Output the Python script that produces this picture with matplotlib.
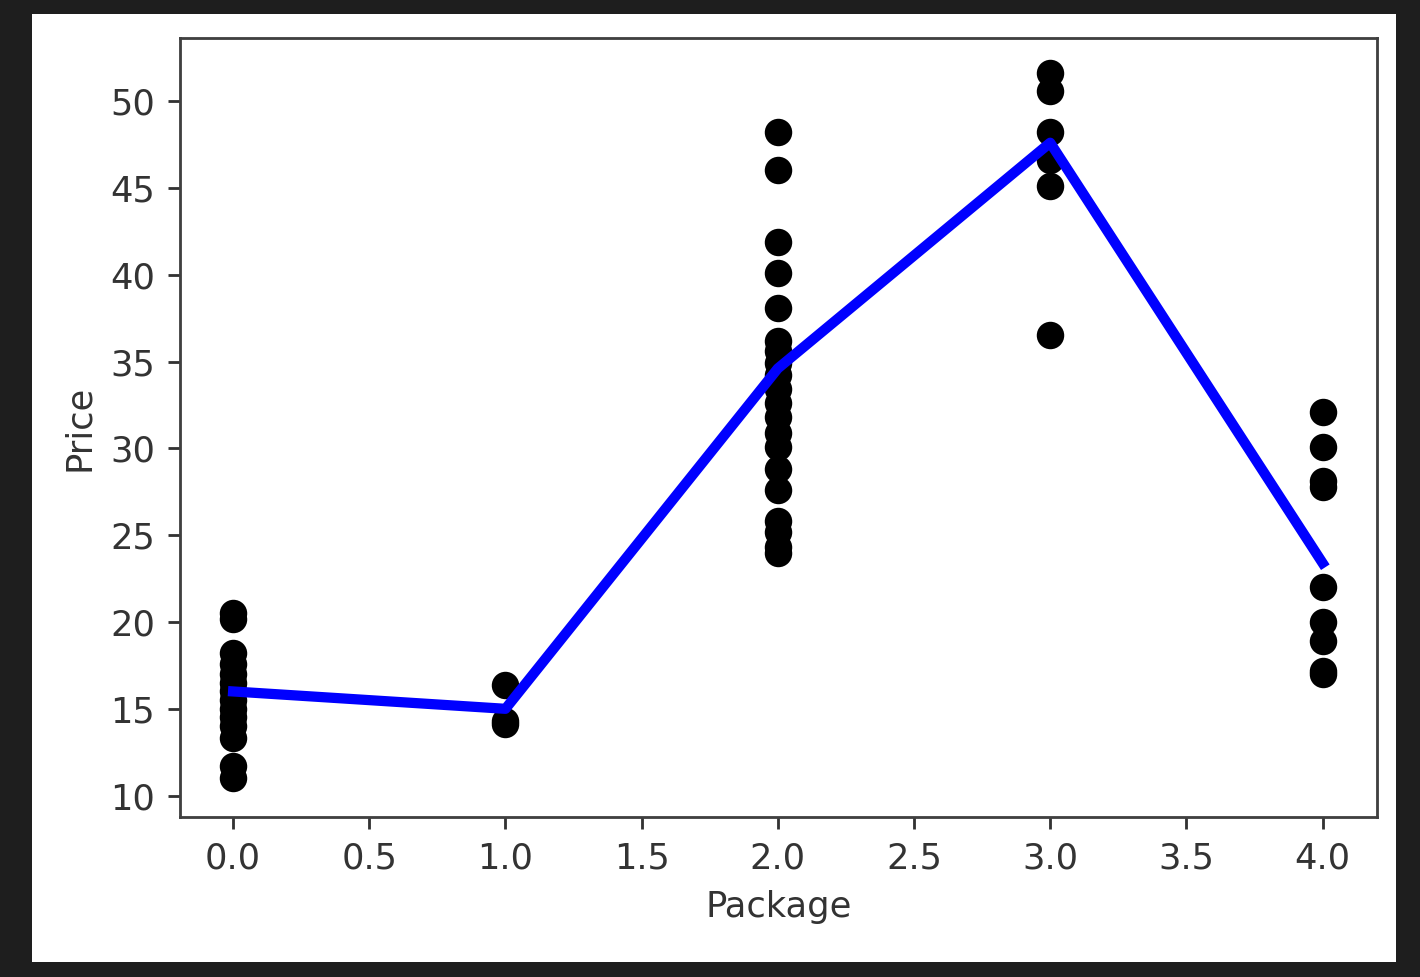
import numpy as np
import matplotlib
matplotlib.use("Agg")
import matplotlib.pyplot as plt
from matplotlib.patches import Rectangle

# scatter points, one list per package
pkg0 = [20.5, 20.2, 18.2, 17.6, 17.0, 16.5, 16.0, 15.5, 15.0, 14.5, 14.0, 13.3, 11.7, 11.0]
pkg1 = [16.4, 14.3, 14.1]
pkg2 = [48.2, 46.0, 41.9, 40.1, 38.1, 36.2, 35.6, 34.9, 34.2, 33.4, 32.6, 31.8, 30.9, 30.1,
        28.8, 27.6, 25.8, 25.2, 24.3, 24.0]
pkg3 = [51.6, 50.6, 48.2, 46.6, 45.1, 36.5]
pkg4 = [32.1, 30.1, 28.1, 27.8, 22.0, 20.0, 18.9, 17.2, 17.0]

# fitted line
line_x = [0, 1, 2, 3, 4]
line_y = [16.0, 15.0, 34.6, 47.6, 23.4]

groups = [pkg0, pkg1, pkg2, pkg3, pkg4]
xs = []
ys = []
for i, g in enumerate(groups):
    xs += [i] * len(g)
    ys += g

W, H = 1420, 977
dpi = 254
fig = plt.figure(figsize=(W / dpi, H / dpi), dpi=dpi)
fig.patch.set_facecolor('#1e1e1e')
# white card behind the plot
fig.patches.append(Rectangle((32 / W, 1 - 962 / H), (1396 - 32) / W, (962 - 14) / H,
                             transform=fig.transFigure, facecolor='white', edgecolor='none', zorder=-10))

txt = '#333333'
ax = fig.add_axes([180 / W, 1 - 817 / H, (1377 - 180) / W, (817 - 38) / H])
ax.scatter(xs, ys, color='black', s=46)
ax.plot(line_x, line_y, color='blue', linewidth=2.9)
ax.set_xlabel('Package', color=txt)
ax.set_ylabel('Price', color=txt)
ax.set_xticks(np.arange(0, 4.01, 0.5))
ax.set_yticks(np.arange(10, 51, 5))
ax.set_xlim(-0.195, 4.2)
ax.set_ylim(8.77, 53.63)
ax.tick_params(colors=txt, labelcolor=txt)
for sp in ax.spines.values():
    sp.set_color('#404040')

fig.savefig('out.png', dpi=dpi, facecolor=fig.get_facecolor())
